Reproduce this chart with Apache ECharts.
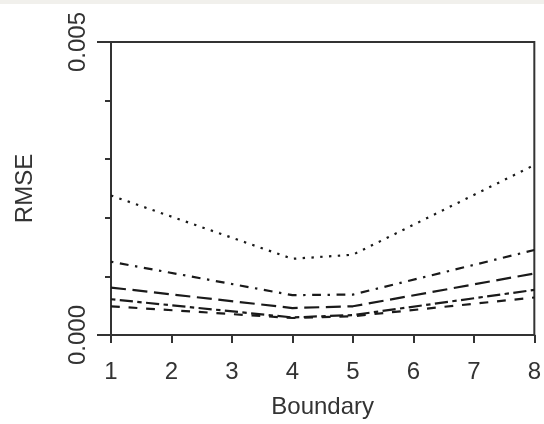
<!DOCTYPE html>
<html>
<head>
<meta charset="utf-8">
<script src="https://cdn.jsdelivr.net/npm/echarts@6/dist/echarts.min.js"></script>
<style>html,body{margin:0;padding:0;background:#fff;}#c{width:544px;height:424px;}</style>
</head>
<body>
<div id="c"></div>
<script>
var boundaries = [1, 4, 5, 8];
var dottedVals = [0.00238, 0.00130, 0.00137, 0.00290];
var dotdashVals = [0.00125, 0.00068, 0.00069, 0.00145];
var longdashVals = [0.00081, 0.00046, 0.00049, 0.00105];
var twodashVals = [0.00061, 0.00030, 0.00034, 0.00077];
var dashedVals = [0.00049, 0.00029, 0.00032, 0.00064];
var yTicks = [0, 0.005];

function pairs(vals) { return boundaries.map(function (b, i) { return [b, vals[i]]; }); }
function mk(vals, dash) {
  return { type: 'line', data: pairs(vals), symbol: 'none', silent: true,
    lineStyle: { color: '#1a1a1a', width: 2.2, type: dash } };
}
var font = 'Liberation Sans, Arial, sans-serif';
var chart = echarts.init(document.getElementById('c'));
chart.setOption({
  animation: false,
  backgroundColor: '#fff',
  graphic: [{ type: 'rect', shape: { x: 0, y: 0, width: 544, height: 4 }, style: { fill: '#f1f0ec' } }],
  grid: { left: 111, right: 9, top: 42, bottom: 86, show: true, borderColor: '#333', borderWidth: 2 },
  xAxis: {
    type: 'value', min: 1, max: 8, interval: 1,
    name: 'Boundary', nameLocation: 'middle', nameGap: 60,
    nameTextStyle: { fontFamily: font, fontSize: 24, color: '#333' },
    axisLine: { show: true, lineStyle: { color: '#333', width: 2 } },
    axisTick: { show: true, length: 8, lineStyle: { color: '#333', width: 2 } },
    axisLabel: { fontFamily: font, fontSize: 24, color: '#333', margin: 25 },
    splitLine: { show: false }
  },
  yAxis: {
    type: 'value', min: yTicks[0], max: yTicks[1], interval: 0.005,
    name: 'RMSE', nameLocation: 'middle', nameGap: 74, nameRotate: 90,
    nameTextStyle: { fontFamily: font, fontSize: 24, color: '#333' },
    axisLine: { show: true, lineStyle: { color: '#333', width: 2 } },
    axisTick: { show: true, length: 14, lineStyle: { color: '#333', width: 2 } },
    minorTick: { show: true, splitNumber: 5, length: 6, lineStyle: { color: '#333', width: 2 } },
    axisLabel: { fontFamily: font, fontSize: 24, color: '#333', rotate: 90, margin: 21,
      formatter: function (v) { return v.toFixed(3); } },
    splitLine: { show: false }
  },
  series: [
    mk(dottedVals, [2.4, 6.4]),
    mk(dotdashVals, [2.4, 6.6, 8.8, 6.6]),
    mk(longdashVals, [15, 6.6]),
    mk(twodashVals, [4.4, 4.4, 13.2, 4.4]),
    mk(dashedVals, [8.8, 8.8])
  ]
});
</script>
</body>
</html>
